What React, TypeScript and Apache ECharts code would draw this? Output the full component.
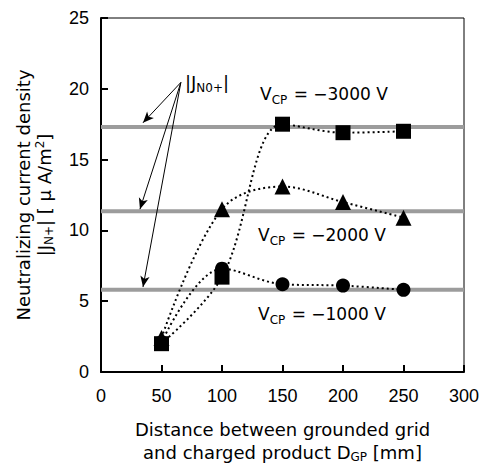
import React, { useEffect, useRef } from "react";
import * as echarts from "echarts";

const distances = [50, 100, 150, 200, 250];
const v3000 = [2.0, 6.7, 17.5, 16.9, 17.0];
const v2000 = [2.4, 11.5, 13.1, 12.0, 10.9];
const v1000 = [2.1, 7.3, 6.2, 6.1, 5.8];
const refLevels = [17.3, 11.35, 5.8];
const arrowStart = [66, 20.45];
const arrowEnds = [
  [34.7, 17.6],
  [32.2, 11.5],
  [34.7, 6.0],
];
const xTicks = [0, 300, 50];
const yTicks = [0, 25, 5];

const FONT = "'DejaVu Sans', sans-serif";
const TICKFONT = "'Liberation Sans', Arial, sans-serif";

export default function App() {
  const ref = useRef<HTMLDivElement>(null);
  useEffect(() => {
    document.body.style.margin = "0";
    const chart = echarts.init(ref.current!, null, { renderer: "svg" });
    const pts = (ys: number[]) => distances.map((x, i) => [x, ys[i]]);
    const dataSeries = (name: string, ys: number[], symbol: string, size: number, z: number) => ({
      name,
      type: "line",
      data: pts(ys),
      smooth: 0.35,
      symbol,
      symbolSize: size,
      itemStyle: { color: "#000" },
      lineStyle: { color: "#000", width: 2, type: [2, 3] },
      z,
    });
    const vLabel = (x: number, y: number, v: string) => ({
      type: "text",
      x,
      y,
      style: {
        text: `{a|V}{s|CP}{a| = −${v} V}`,
        fontFamily: FONT,
        fill: "#000",
        verticalAlign: "middle",
        rich: {
          a: { fontSize: 17, fontFamily: FONT, fill: "#000" },
          s: { fontSize: 12, fontFamily: FONT, fill: "#000", padding: [12, 1, 0, 0] },
        },
      },
    });
    chart.setOption({
      animation: false,
      backgroundColor: "#fff",
      grid: {
        left: 101,
        top: 18,
        right: 17,
        bottom: 92,
        show: true,
        borderColor: "#000",
        borderWidth: 1,
        backgroundColor: "transparent",
        containLabel: false,
        outerBoundsMode: "none",
      },
      xAxis: {
        type: "value",
        min: xTicks[0],
        max: xTicks[1],
        interval: xTicks[2],
        axisLine: { show: true, onZero: false, lineStyle: { color: "#000", width: 2 } },
        axisTick: { show: true, inside: true, length: 7, lineStyle: { color: "#000", width: 2 } },
        axisLabel: { color: "#000", fontSize: 18, fontFamily: TICKFONT, margin: 15 },
        splitLine: { show: false },
        name: "{a|Distance between grounded grid}\n{a|and charged product D}{s|GP}{a| [mm]}",
        nameLocation: "middle",
        nameGap: 46,
        nameTextStyle: {
          color: "#000",
          fontFamily: FONT,
          fontSize: 18,
          lineHeight: 23,
          rich: {
            a: { fontSize: 18, fontFamily: FONT, color: "#000", lineHeight: 23 },
            s: { fontSize: 12, fontFamily: FONT, color: "#000", padding: [8, 0, 0, 0] },
          },
        },
      },
      yAxis: {
        type: "value",
        min: yTicks[0],
        max: yTicks[1],
        interval: yTicks[2],
        axisLine: { show: true, lineStyle: { color: "#000", width: 2 } },
        axisTick: { show: true, inside: true, length: 7, lineStyle: { color: "#000", width: 2 } },
        axisLabel: { color: "#000", fontSize: 18, fontFamily: TICKFONT, margin: 12 },
        splitLine: { show: false },
        name: "{a|Neutralizing current density}\n{a||J}{s|N+}{a|| [ μ A/m}{p|2}{a|]}",
        nameLocation: "middle",
        nameGap: 46,
        nameTextStyle: {
          color: "#000",
          fontFamily: FONT,
          fontSize: 18,
          lineHeight: 21,
          rich: {
            a: { fontSize: 18, fontFamily: FONT, color: "#000", lineHeight: 21 },
            s: { fontSize: 12, fontFamily: FONT, color: "#000", padding: [8, 0, 0, 0] },
            p: { fontSize: 12, fontFamily: FONT, color: "#000", padding: [0, 0, 10, 0] },
          },
        },
      },
      series: [
        ...refLevels.map((lv, i) => ({
          name: "ref" + i,
          type: "line",
          data: [
            [xTicks[0], lv],
            [xTicks[1], lv],
          ],
          symbol: "none",
          silent: true,
          lineStyle: { color: "#9c9c9c", width: 4 },
          z: 1,
          ...(i === 0
            ? {
                markLine: {
                  silent: true,
                  symbol: ["none", "arrow"],
                  symbolSize: [7, 11],
                  label: { show: false },
                  lineStyle: { color: "#000", width: 1, type: "solid" },
                  data: arrowEnds.map((e) => [{ coord: arrowStart }, { coord: e }]),
                },
              }
            : {}),
        })),
        dataSeries("-1000 V", v1000, "circle", 14, 3),
        dataSeries("-2000 V", v2000, "triangle", 16, 4),
        dataSeries("-3000 V", v3000, "rect", 15, 5),
      ],
      graphic: [
        {
          type: "text",
          x: 185,
          y: 82,
          style: {
            text: "{a||J}{s|N0+}{a||}",
            fontFamily: FONT,
            fill: "#000",
            verticalAlign: "middle",
            rich: {
              a: { fontSize: 18, fontFamily: FONT, fill: "#000" },
              s: { fontSize: 12, fontFamily: FONT, fill: "#000", padding: [12, 0, 0, 0] },
            },
          },
        },
        vLabel(260, 94, "3000"),
        vLabel(258, 235, "2000"),
        vLabel(258, 314, "1000"),
      ],
    });
    return () => chart.dispose();
  }, []);
  return <div ref={ref} style={{ width: 481, height: 464 }} />;
}
